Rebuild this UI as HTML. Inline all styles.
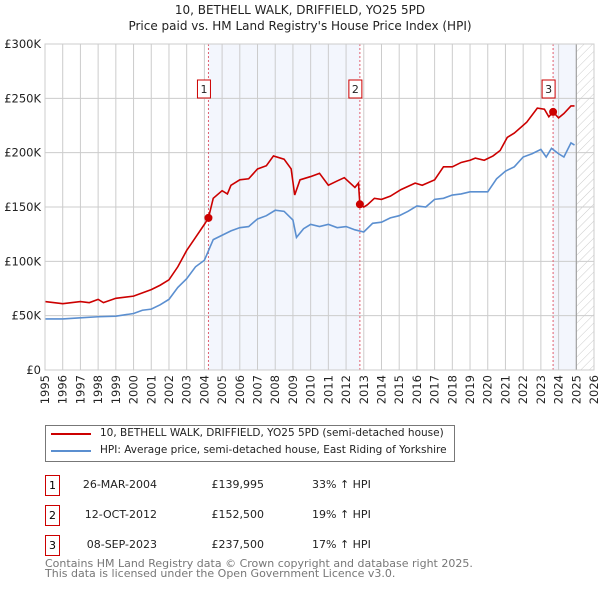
<!DOCTYPE html>
<html><head><meta charset="utf-8"><style>
body{margin:0;background:#fff;font-family:"DejaVu Sans","Liberation Sans",sans-serif;}
#wrap{position:relative;width:600px;height:590px;overflow:hidden}
.t{position:absolute;font-size:12px;color:#222;white-space:nowrap}
.box{position:absolute;border:1px solid #c00;width:13px;height:19px;text-align:center;font-size:11px;line-height:19px;background:#fff}
</style></head><body><div id="wrap">
<div class="t" style="left:0;width:600px;text-align:center;top:3px">10, BETHELL WALK, DRIFFIELD, YO25 5PD</div>
<div class="t" style="left:0;width:600px;text-align:center;top:19px">Price paid vs. HM Land Registry's House Price Index (HPI)</div>
<svg id="chart" width="600" height="410" style="position:absolute;left:0;top:0"></svg>
<div style="position:absolute;left:45px;top:425px;width:408px;height:35px;border:1px solid #777">
 <div style="position:absolute;left:5px;top:7px;width:40px;height:2px;background:#c00"></div>
 <div class="t" style="left:54px;top:1px;font-size:10.5px">10, BETHELL WALK, DRIFFIELD, YO25 5PD (semi-detached house)</div>
 <div style="position:absolute;left:5px;top:24px;width:40px;height:2px;background:#5b8fd0"></div>
 <div class="t" style="left:54px;top:18px;font-size:10.5px">HPI: Average price, semi-detached house, East Riding of Yorkshire</div>
</div>
<div id="table"></div>
<div class="t" style="left:45px;top:559px;font-size:11px;color:#777;line-height:10px">Contains HM Land Registry data © Crown copyright and database right 2025.<br>This data is licensed under the Open Government Licence v3.0.</div>
</div>
<script>
const yearTicks=[1995,1996,1997,1998,1999,2000,2001,2002,2003,2004,2005,2006,2007,2008,2009,2010,2011,2012,2013,2014,2015,2016,2017,2018,2019,2020,2021,2022,2023,2024,2025,2026];
const valueTicks=[0,50000,100000,150000,200000,250000,300000];
const valueTickLabels=["£0","£50K","£100K","£150K","£200K","£250K","£300K"];
const propYears=[1995,1996,1997,1997.5,1998,1998.3,1999,2000,2000.5,2001,2001.5,2002,2002.5,2003,2003.5,2004,2004.23,2004.5,2005,2005.3,2005.5,2006,2006.5,2007,2007.5,2007.9,2008.5,2008.9,2009.1,2009.4,2010,2010.5,2011,2011.5,2011.9,2012.5,2012.7,2012.78,2013,2013.2,2013.6,2014,2014.5,2015.1,2015.9,2016.3,2017,2017.5,2018,2018.5,2019,2019.3,2019.8,2020.3,2020.7,2021.1,2021.5,2022.2,2022.8,2023.2,2023.45,2023.69,2024,2024.3,2024.7,2024.9];
const propValues=[63,61,63,62,65,62,66,68,71,74,78,83,95,110,122,134,140,158,165,162,170,175,176,185,188,197,194,185,161,175,178,181,170,174,177,168,172,152.5,150,152,158,157,160,166,172,170,175,187,187,191,193,195,193,197,202,214,218,228,241,240,233,237.5,232,236,243,243];
const hpiYears=[1995,1996,1997,1998,1999,2000,2000.5,2001,2001.5,2002,2002.5,2003,2003.5,2004,2004.5,2005,2005.5,2006,2006.5,2007,2007.5,2008,2008.5,2009,2009.2,2009.6,2010,2010.5,2011,2011.5,2012,2012.5,2013,2013.5,2014,2014.5,2015,2015.5,2016,2016.5,2017,2017.5,2018,2018.5,2019,2019.5,2020,2020.5,2021,2021.5,2022,2022.5,2023,2023.3,2023.6,2024,2024.3,2024.7,2024.9];
const hpiValues=[47,47,48,49,49.5,52,55,56,60,65,76,84,95,101,120,124,128,131,132,139,142,147,146,138,122,130,134,132,134,131,132,129,127,135,136,140,142,146,151,150,157,158,161,162,164,164,164,176,183,187,196,199,203,196,204,199,196,209,207];
const saleLabels=["1","2","3"];
const saleYears=[2004.23,2012.78,2023.69];
const salePrices=[139995,152500,237500];
const saleDates=["26-MAR-2004","12-OCT-2012","08-SEP-2023"];
const salePriceText=["£139,995","£152,500","£237,500"];
const saleHpiText=["33% ↑ HPI","19% ↑ HPI","17% ↑ HPI"];

const X0=45,X1=594,Y0=370,Y1=44;
const x=y=>X0+(y-1995)/(2026-1995)*(X1-X0);
const yv=v=>Y0-v/300000*(Y0-Y1);
const NS="http://www.w3.org/2000/svg";
const svg=document.getElementById('chart');
function mk(tag,attrs,parent){const e=document.createElementNS(NS,tag);for(const k in attrs)e.setAttribute(k,attrs[k]);(parent||svg).appendChild(e);return e;}
const defs=mk('defs',{});
const pat=mk('pattern',{id:'hatch',width:6,height:6,patternUnits:'userSpaceOnUse',patternTransform:'rotate(45)'},defs);
mk('line',{x1:0,y1:0,x2:0,y2:6,stroke:'#ccc','stroke-width':1},pat);
let r=mk('rect',{x:x(saleYears[0]),y:Y1,width:x(saleYears[1])-x(saleYears[0]),height:Y0-Y1,fill:'#f3f6fd'});


r=mk('rect',{x:x(saleYears[2]),y:Y1,width:x(2025)-x(saleYears[2]),height:Y0-Y1,fill:'#f3f6fd'});


r=mk('rect',{x:x(2025),y:Y1,width:X1-x(2025),height:Y0-Y1,fill:'url(#hatch)'});


yearTicks.forEach(t=>{const l=mk('line',{x1:x(t),x2:x(t),y1:Y1,y2:Y0,stroke:'#ccc','stroke-width':1});


const tx=mk('text',{x:0,y:0,'text-anchor':'end','font-size':11.5,fill:'#222',transform:`translate(${x(t)+4},${Y0+5}) rotate(-90)`});tx.textContent=t;

});
valueTicks.forEach((v,i)=>{const l=mk('line',{x1:X0,x2:X1,y1:yv(v),y2:yv(v),stroke:'#ccc','stroke-width':1});


const tx=mk('text',{x:41,y:yv(v)+4,'text-anchor':'end','font-size':11.5,fill:'#222'});tx.textContent=valueTickLabels[i];

});
mk('line',{x1:x(2025),x2:x(2025),y1:Y1,y2:Y0,stroke:'#999','stroke-width':1});
saleYears.forEach((s,i)=>{const l=mk('line',{x1:x(s),x2:x(s),y1:Y1,y2:Y0,stroke:'#e06070','stroke-width':1,'stroke-dasharray':'2,2'});

});
const hp=mk('polyline',{points:hpiYears.map((t,i)=>x(t)+','+yv(hpiValues[i]*1000)).join(' '),fill:'none',stroke:'#5b8fd0','stroke-width':1.6});


const pp=mk('polyline',{points:propYears.map((t,i)=>x(t)+','+yv(propValues[i]*1000)).join(' '),fill:'none',stroke:'#c00','stroke-width':1.6});


saleYears.forEach((s,i)=>{const c=mk('circle',{cx:x(s),cy:yv(salePrices[i]),r:4,fill:'#c00'});


const g=mk('rect',{x:x(s)-11,y:80,width:13,height:18,fill:'#fff',stroke:'#c00'});


const tx=mk('text',{x:x(s)-4.5,y:93,'text-anchor':'middle','font-size':11,fill:'#222'});tx.textContent=saleLabels[i];

});
mk('rect',{x:X0,y:Y1,width:X1-X0,height:Y0-Y1,fill:'none',stroke:'#ccc'});
const tb=document.getElementById('table');
saleLabels.forEach((lab,i)=>{const top=475+i*30;
const row=document.createElement('div');


row.innerHTML=`<div class="box" style="left:45px;top:${top}px">${lab}</div>
<div class="t" style="left:0;width:157px;text-align:right;top:${top+3}px;font-size:11px">${saleDates[i]}</div>
<div class="t" style="left:0;width:264px;text-align:right;top:${top+3}px;font-size:11px">${salePriceText[i]}</div>
<div class="t" style="left:312px;top:${top+3}px;font-size:11px">${saleHpiText[i]}</div>`;
tb.appendChild(row);});
</script></body></html>
